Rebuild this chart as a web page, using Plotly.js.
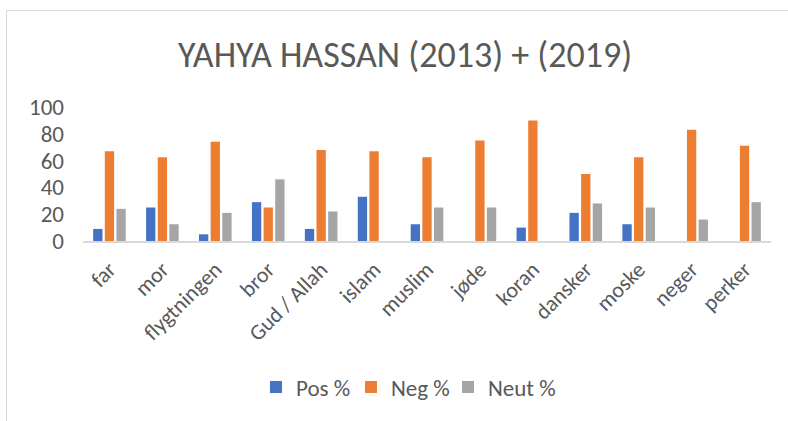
<!DOCTYPE html>
<html>
<head>
<meta charset="utf-8">
<script src="https://cdn.plot.ly/plotly-3.0.1.min.js"></script>
<style>
html,body{margin:0;padding:0;background:#fff;}
#wrap{position:relative;width:788px;height:421px;overflow:hidden;}
#frame{position:absolute;left:6px;top:10px;width:800px;height:430px;border:1px solid #d9d9d9;box-sizing:border-box;pointer-events:none;}
#chart{position:absolute;left:0;top:0;width:788px;height:421px;}
</style>
</head>
<body>
<div id="wrap">
<div id="chart"></div>
<div id="frame"></div>
</div>
<script>
const categories = ["far","mor","flygtningen","bror","Gud / Allah","islam","muslim","jøde","koran","dansker","moske","neger","perker"];
const posValues  = [9, 25, 5, 29, 9, 33, 12.5, 0, 10, 21, 12.5, 0, 0];
const negValues  = [67, 62.5, 74, 25, 68, 67, 62.5, 75, 90, 50, 62.5, 83, 71];
const neutValues = [24, 12.5, 21, 46, 22, 0, 25, 25, 0, 28, 25, 16, 29];
const seriesNames = ["Pos %", "Neg %", "Neut %"];

const font = "Calibri, Carlito, 'Liberation Sans Narrow', 'Open Sans', sans-serif";
const txt = "#595959";
const colors = ["#4472c4", "#ed7d31", "#a5a5a5"];
const legendIds = ["legend", "legend2", "legend3"];
const legendX = [0.2514, 0.3895, 0.5305];

const traces = [posValues, negValues, neutValues].map((vals, i) => ({
  type:"bar", x: categories, y: vals, name: seriesNames[i],
  marker:{color:colors[i]}, hoverinfo:"skip", legend: legendIds[i]
}));

const layout = {
  width:788, height:421,
  margin:{l:83, r:17, t:107, b:180},
  paper_bgcolor:"rgba(0,0,0,0)", plot_bgcolor:"rgba(0,0,0,0)",
  barmode:"group", bargap:0.34, bargroupgap:0.2,
  title:{text:"YAHYA HASSAN (2013) + (2019)", font:{family:font, size:36, color:txt}, x:0.514, xanchor:"center", y:0.87, yanchor:"middle"},
  xaxis:{type:"category", tickangle:-45, tickfont:{family:font, size:22, color:txt}, ticklabelstandoff:5,
         showline:true, linecolor:"#d9d9d9", linewidth:2, ticks:"", showgrid:false, automargin:false},
  yaxis:{range:[0,100], dtick:20, tick0:0, tickfont:{family:font, size:23, color:txt}, ticklabelstandoff:18,
         showgrid:false, zeroline:false, showline:false, ticks:"", ticklen:0, automargin:false},
  showlegend:true
};
legendIds.forEach((id, i) => {
  layout[id] = {orientation:"h", x:legendX[i], xanchor:"left", y:-1.09, yanchor:"middle",
                font:{family:font, size:23, color:txt}, itemwidth:30, bgcolor:"rgba(0,0,0,0)"};
});

Plotly.newPlot("chart", traces, layout, {staticPlot:true, displayModeBar:false});
</script>
</body>
</html>
